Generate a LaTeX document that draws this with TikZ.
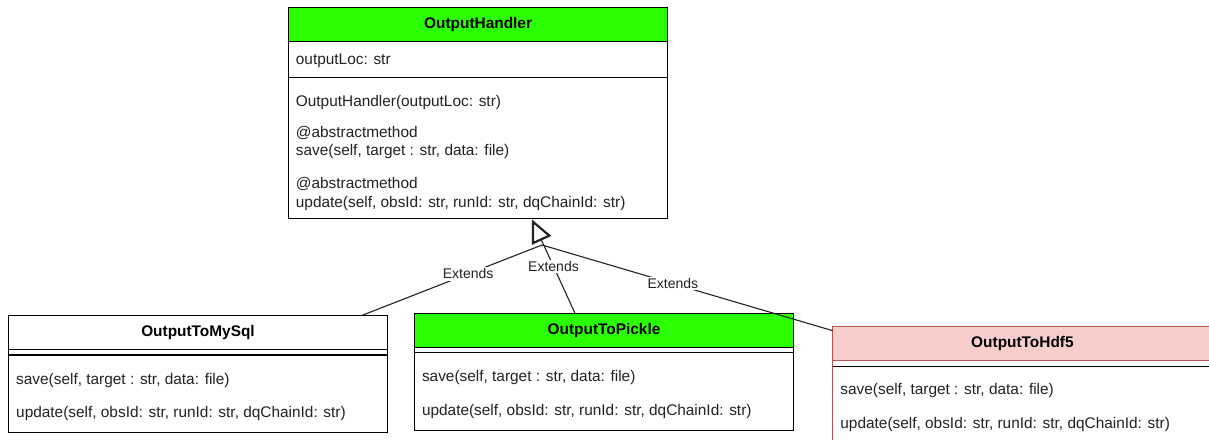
\documentclass[tikz,border=0pt]{standalone}
\usepackage{fontspec}
\setmainfont{Liberation Sans}
\usepackage{tikz}
\usetikzlibrary{arrows.meta,calc}

\definecolor{headgreen}{RGB}{43,255,0}
\definecolor{pinkfill}{RGB}{248,206,204}
\definecolor{pinkline}{RGB}{184,84,80}
\definecolor{textgray}{RGB}{34,34,34}

\tikzset{
  classhead/.style={draw=black, line width=1.1pt, anchor=north west, outer sep=0pt, inner sep=0pt,
    minimum width=379.4pt, minimum height=34pt, text=black, font=\bfseries\fontsize{15.4}{18}\selectfont},
  classbody/.style={draw=black, line width=1.1pt, anchor=north west, outer sep=0pt, inner sep=0pt,
    minimum width=379.4pt},
  member/.style={anchor=base west, inner sep=0pt, text=textgray, font=\fontsize{15.4}{18}\selectfont},
  extends/.style={draw=textgray, line width=1.1pt},
  extlabel/.style={fill=white, inner sep=1.5pt, text=textgray, font=\fontsize{14}{16}\selectfont},
}

\begin{document}
\begin{tikzpicture}[x=1pt, y=-1pt]
  \useasboundingbox (0,0) rectangle (1209,439);
  \clip (0,0) rectangle (1209,439);

  % abstract base class
  \node[classhead, fill=headgreen] (handlerHead) at (288.4,7.3) {OutputHandler};
  \node[classbody, minimum height=36.6pt] (handlerAttr) at (288.4,41.3) {};
  \node[classbody, minimum height=141pt] (handlerOps) at (288.4,77.9) {};
  \node[member] (hLoc) at (295.7,64.8) {outputLoc: str};
  \node[member] (hCtor) at (295.7,106.5) {OutputHandler(outputLoc: str)};
  \node[member] (hSaveTag) at (295.7,137.5) {@abstractmethod};
  \node[member] (hSave) at (295.7,155.5) {save(self, target : str, data: file)};
  \node[member] (hUpdTag) at (295.7,188.5) {@abstractmethod};
  \node[member] (hUpd) at (295.7,207) {update(self, obsId: str, runId: str, dqChainId: str)};

  % subclasses
  \node[classhead, fill=white] (sqlHead) at (8.3,315.5) {OutputToMySql};
  \node[classbody, minimum height=83pt] (sqlBody) at (8.3,349.5) {};
  \draw[line width=1.1pt] ($(sqlBody.north west)+(0,5.5)$) -- ($(sqlBody.north east)+(0,5.5)$);
  \node[member] (sqlSave) at (16,384.2) {save(self, target : str, data: file)};
  \node[member] (sqlUpd) at (16,417.5) {update(self, obsId: str, runId: str, dqChainId: str)};

  \node[classhead, fill=headgreen] (pickleHead) at (414.3,313.3) {OutputToPickle};
  \node[classbody, minimum height=83.4pt] (pickleBody) at (414.3,347.3) {};
  \draw[line width=1.1pt] ($(pickleBody.north west)+(0,5.5)$) -- ($(pickleBody.north east)+(0,5.5)$);
  \node[member] (pickleSave) at (421.8,381.9) {save(self, target : str, data: file)};
  \node[member] (pickleUpd) at (421.8,415.3) {update(self, obsId: str, runId: str, dqChainId: str)};

  \node[classhead, fill=pinkfill, draw=pinkline] (hdfHead) at (832.7,326.7) {OutputToHdf5};
  \node[classbody, draw=pinkline, minimum height=83.5pt] (hdfBody) at (832.7,360.7) {};
  \draw[line width=1.1pt] ($(hdfBody.north west)+(0.6,5.5)$) -- ($(hdfBody.north east)+(0,5.5)$);
  \node[member] (hdfSave) at (840.2,394.9) {save(self, target : str, data: file)};
  \node[member] (hdfUpd) at (840.2,428.3) {update(self, obsId: str, runId: str, dqChainId: str)};

  % inheritance
  \coordinate (tip) at (532,219.5);
  \coordinate (join) at (542,245);
  \draw[extends, -{Triangle[open, length=23pt, width=21pt, line width=2.2pt]}]
    ($(pickleHead.north west)+(160.7,0)$) -- node[extlabel, pos=0.5] {Extends} (tip);
  \draw[extends] ($(sqlHead.north east)+(-26,0)$) -- node[extlabel, pos=0.59] {Extends} (join);
  \draw[extends] ($(hdfHead.north west)+(0,4)$) -- node[extlabel, pos=0.55] {Extends} (join);
\end{tikzpicture}
\end{document}
